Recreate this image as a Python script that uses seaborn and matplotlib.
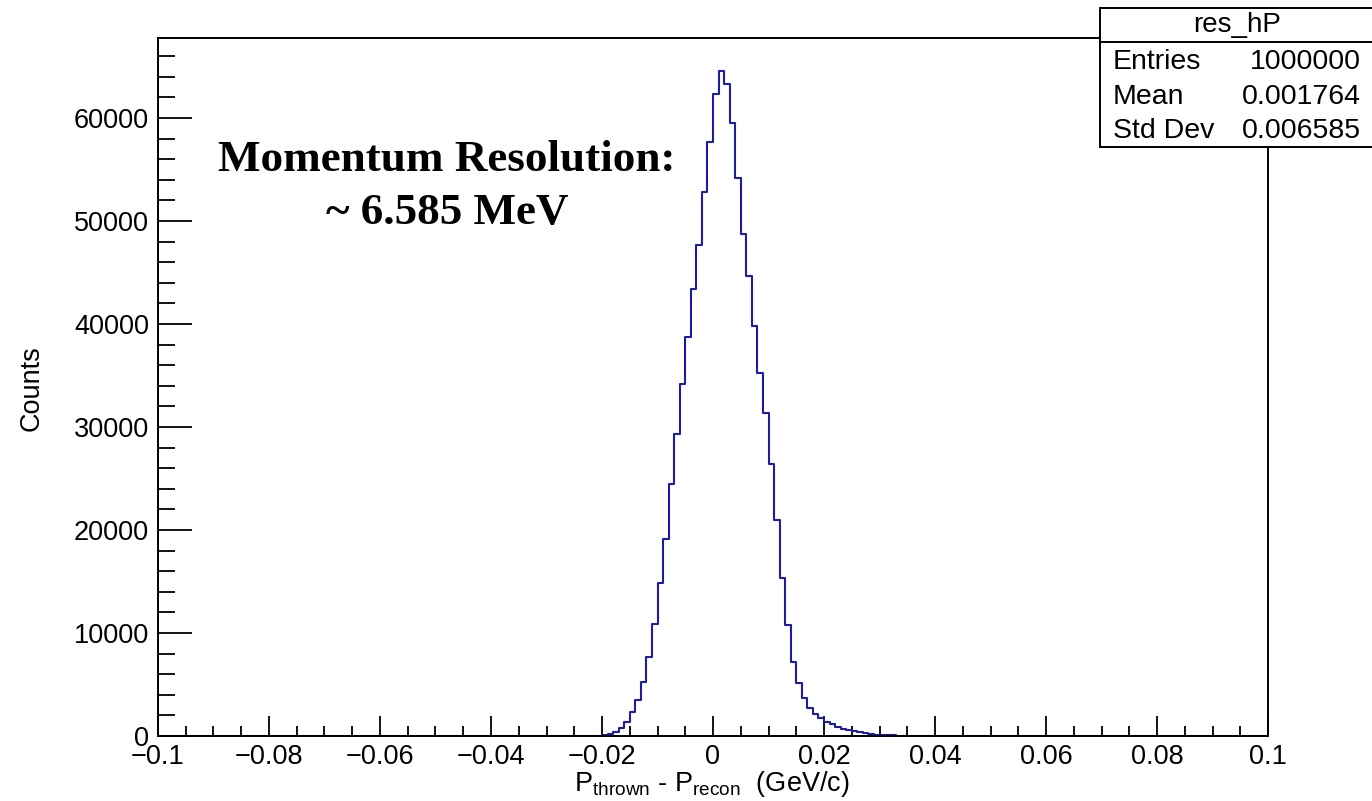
import numpy as np
import pandas as pd
import matplotlib
matplotlib.use("Agg")
import matplotlib.pyplot as plt
from matplotlib.patches import Rectangle
from matplotlib.lines import Line2D
from matplotlib.ticker import MultipleLocator
import seaborn as sns

# ---- data ----
x_min, x_max, bin_width = -0.1, 0.1, 0.001
first_bin_left = -0.021          # left edge of first non-empty bin
counts_nonzero = [
    20, 80, 200, 420, 750, 1400, 2300, 3500, 5200, 7700,          # -0.021 .. -0.012
    10900, 14850, 19150, 24450, 29300, 34200, 38700, 43430,        # -0.011 .. -0.004
    47640, 52850, 57700, 62300,                                    # -0.003 .. 0.000
    64560, 63270, 59480, 54150, 48770, 44660, 39800, 35270,        # 0.001 .. 0.008
    31330, 26380, 20970, 15370, 10750, 7220, 5180, 3720,           # 0.009 .. 0.016
    2690, 2100, 1720, 1390, 1130, 900, 710, 580, 450, 350,         # 0.017 .. 0.026
    260, 200, 130, 100, 70, 50, 40, 30, 20, 15, 10, 8, 5, 3,       # 0.027 .. 0.040
]
x_major_ticks = [-0.1, -0.08, -0.06, -0.04, -0.02, 0, 0.02, 0.04, 0.06, 0.08, 0.1]
x_tick_labels = ["\u22120.1", "\u22120.08", "\u22120.06", "\u22120.04", "\u22120.02",
                 "0", "0.02", "0.04", "0.06", "0.08", "0.1"]
y_major_ticks = [0, 10000, 20000, 30000, 40000, 50000, 60000]
stats_title = "res_hP"
stats_names = ["Entries", "Mean", "Std Dev"]
stats_values = ["1000000", "0.001764", "0.006585"]
annot_lines = ["Momentum Resolution:", "~ 6.585 MeV"]

# build full histogram table
n_bins = int(round((x_max - x_min) / bin_width))
edges = np.round(x_min + bin_width * np.arange(n_bins + 1), 6)
centers = (edges[:-1] + edges[1:]) / 2
full_counts = np.zeros(n_bins)
start = int(round((first_bin_left - x_min) / bin_width))
full_counts[start:start + len(counts_nonzero)] = counts_nonzero
df = pd.DataFrame({"x": centers, "w": full_counts})

# ---- style ----
sns.set_style("ticks")
plt.rcParams["font.family"] = ["Liberation Sans", "DejaVu Sans"]
plt.rcParams["mathtext.fontset"] = "custom"
plt.rcParams["mathtext.rm"] = "Liberation Sans"
plt.rcParams["mathtext.it"] = "Liberation Sans:italic"
plt.rcParams["axes.unicode_minus"] = True
for key in ["text.color", "axes.labelcolor", "xtick.color", "ytick.color", "axes.edgecolor"]:
    plt.rcParams[key] = "black"

W, H = 1372, 801
fig = plt.figure(figsize=(W / 100, H / 100), dpi=100)
fig.patch.set_facecolor("white")
L, R, T, B = 158, 1268, 38, 736
ax = fig.add_axes([L / W, 1 - B / H, (R - L) / W, (B - T) / H])

sns.histplot(data=df, x="x", weights="w", bins=n_bins, binrange=(x_min, x_max),
             element="step", fill=False, color="#1c1ca6", linewidth=1.5, ax=ax)

ax.set_xlim(x_min, x_max)
ax.set_ylim(0, 60000 * (B - T) / (B - 118))

for s in ax.spines.values():
    s.set_linewidth(1.4)
    s.set_color("black")

ax.set_xticks(x_major_ticks)
ax.set_xticklabels(x_tick_labels)
ax.xaxis.set_minor_locator(MultipleLocator(0.005))
ax.set_yticks(y_major_ticks)
ax.set_yticklabels([str(v) for v in y_major_ticks])
ax.yaxis.set_minor_locator(MultipleLocator(2000))

ax.tick_params(axis="x", which="major", direction="in", length=14.4, width=1.3,
               labelsize=19.5, pad=6, top=False, colors="black")
ax.tick_params(axis="x", which="minor", direction="in", length=7.2, width=1.3, top=False,
               colors="black")
ax.tick_params(axis="y", which="major", direction="in", length=24.5, width=1.3,
               labelsize=19.5, pad=6.5, right=False, colors="black")
ax.tick_params(axis="y", which="minor", direction="in", length=12.2, width=1.3, right=False,
               colors="black")

ax.set_xlabel(r"P$_{\mathrm{thrown}}$ - P$_{\mathrm{recon}}$  (GeV/c)", fontsize=19.5,
              labelpad=0, color="black")
ax.set_ylabel("Counts", fontsize=19.5, labelpad=0, color="black")
ax.xaxis.set_label_coords((712 - L) / (R - L), (B - 769) / (B - T))
ax.yaxis.set_label_coords((45 - L) / (R - L), (B - 388) / (B - T))

# annotation text
fig.text(447 / W, 1 - 160 / H, annot_lines[0], ha="center", va="center",
         fontsize=32.5, fontweight="bold", family="Liberation Serif", color="black")
fig.text(447 / W, 1 - 213 / H, annot_lines[1], ha="center", va="center",
         fontsize=32.5, fontweight="bold", family="Liberation Serif", color="black")

# stats box
bx0, by0, bx1, by1, bsep = 1100, 8, 1380, 147, 42
fig.add_artist(Rectangle((bx0 / W, 1 - by1 / H), (bx1 - bx0) / W, (by1 - by0) / H,
                         transform=fig.transFigure, facecolor="white",
                         edgecolor="black", linewidth=1.4, zorder=10))
fig.add_artist(Line2D([bx0 / W, 1.0], [1 - bsep / H, 1 - bsep / H],
                      transform=fig.transFigure, color="black", linewidth=1.4, zorder=11))
fig.text(1237 / W, 1 - 25 / H, stats_title, ha="center", va="center",
         fontsize=20, zorder=12, color="black")
for i, (n, v) in enumerate(zip(stats_names, stats_values)):
    yy = 1 - (62 + 34.5 * i) / H
    fig.text(1113 / W, yy, n, ha="left", va="center", fontsize=20.5, zorder=12, color="black")
    fig.text(1361 / W, yy, v, ha="right", va="center", fontsize=20.5, zorder=12, color="black")

fig.savefig("out.png", dpi=100, facecolor="white")
